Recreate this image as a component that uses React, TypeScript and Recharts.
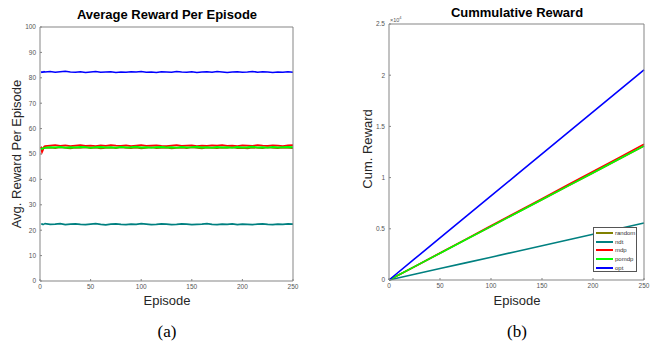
import { LineChart, Line, XAxis, YAxis, Legend } from "recharts";

// Average reward per episode (left panel)
const episodes = [
  1, 2, 3, 4, 5, 10, 15, 20, 25, 30, 35, 40, 45, 50, 55, 60, 65, 70, 75, 80,
  85, 90, 95, 100, 105, 110, 115, 120, 125, 130, 135, 140, 145, 150, 155, 160,
  165, 170, 175, 180, 185, 190, 195, 200, 205, 210, 215, 220, 225, 230, 235,
  240, 245, 250,
];
const avgOpt = [
  82.1, 82.3, 82.2, 82.4, 82.3, 82.5, 82.2, 82.4, 82.6, 82.3, 82.2, 82.4, 82.1,
  82.3, 82.5, 82.2, 82.3, 82.4, 82.1, 82.3, 82.2, 82.4, 82.3, 82.5, 82.2, 82.3,
  82.1, 82.4, 82.3, 82.2, 82.5, 82.3, 82.2, 82.4, 82.1, 82.3, 82.4, 82.2, 82.5,
  82.3, 82.1, 82.3, 82.4, 82.2, 82.3, 82.5, 82.2, 82.4, 82.3, 82.1, 82.3, 82.2,
  82.4, 82.2,
];
const avgNdt = [
  22.3, 22.5, 22.2, 22.4, 22.6, 22.3, 22.4, 22.6, 22.2, 22.4, 22.5, 22.3, 22.2,
  22.4, 22.6, 22.3, 22.1, 22.4, 22.5, 22.3, 22.2, 22.4, 22.3, 22.6, 22.4, 22.2,
  22.3, 22.5, 22.4, 22.2, 22.3, 22.5, 22.4, 22.2, 22.3, 22.4, 22.6, 22.3, 22.2,
  22.4, 22.3, 22.5, 22.2, 22.4, 22.3, 22.2, 22.4, 22.5, 22.3, 22.2, 22.4, 22.3,
  22.5, 22.4,
];
const avgMdp = [
  52.8, 50.7, 51.6, 52.9, 53.1, 53.3, 53.5, 53.2, 53.4, 53.1, 53.3, 53.5, 53.2,
  53.3, 53.1, 53.4, 53.2, 53.5, 53.3, 53.2, 53.4, 53.1, 53.3, 53.5, 53.2, 53.3,
  53.4, 53.2, 53.1, 53.3, 53.5, 53.2, 53.3, 53.4, 53.1, 53.3, 53.2, 53.4, 53.3,
  53.5, 53.2, 53.3, 53.1, 53.4, 53.3, 53.2, 53.5, 53.3, 53.2, 53.4, 53.3, 53.1,
  53.4, 53.5,
];
const avgPomdp = [
  52.3, 51.9, 52.2, 52.4, 52.5, 52.7, 52.6, 52.8, 52.5, 52.7, 52.6, 52.8, 52.7,
  52.5, 52.7, 52.8, 52.6, 52.7, 52.5, 52.8, 52.6, 52.7, 52.9, 52.6, 52.7, 52.5,
  52.7, 52.8, 52.6, 52.7, 52.5, 52.8, 52.6, 52.7, 52.9, 52.6, 52.7, 52.5, 52.8,
  52.6, 52.7, 52.5, 52.8, 52.6, 52.7, 52.9, 52.6, 52.7, 52.5, 52.8, 52.6, 52.7,
  52.8, 52.7,
];
const avgRandom = [
  52.9, 52.4, 52.1, 52.3, 52.4, 52.5, 52.3, 52.6, 52.4, 52.2, 52.5, 52.4, 52.6,
  52.3, 52.5, 52.2, 52.4, 52.5, 52.3, 52.6, 52.4, 52.3, 52.5, 52.2, 52.4, 52.6,
  52.3, 52.4, 52.5, 52.2, 52.4, 52.5, 52.3, 52.6, 52.4, 52.2, 52.5, 52.4, 52.3,
  52.5, 52.4, 52.6, 52.3, 52.4, 52.2, 52.5, 52.4, 52.3, 52.6, 52.4, 52.3, 52.5,
  52.4, 52.3,
];

// Cumulative reward (right panel)
const cumEpisodes = [0, 25, 50, 75, 100, 125, 150, 175, 200, 225, 250];
const cumOpt = [0, 2055, 4110, 6160, 8210, 10260, 12310, 14360, 16410, 18470, 20520];
const cumMdp = [0, 1310, 2640, 3970, 5300, 6630, 7950, 9280, 10600, 11930, 13250];
const cumPomdp = [0, 1305, 2620, 3930, 5240, 6550, 7860, 9170, 10480, 11790, 13100];
const cumRandom = [0, 1300, 2610, 3920, 5230, 6540, 7840, 9150, 10450, 11760, 13070];
const cumNdt = [0, 555, 1115, 1670, 2230, 2785, 3340, 3900, 4460, 5010, 5570];

const xTicks = [0, 50, 100, 150, 200, 250];
const avgTicks = [0, 10, 20, 30, 40, 50, 60, 70, 80, 90, 100];
const cumTicks = [0, 5000, 10000, 15000, 20000, 25000];

const seriesDefs = [
  { key: "random", color: "#808000" },
  { key: "ndt", color: "#008080" },
  { key: "mdp", color: "#ff0000" },
  { key: "pomdp", color: "#00ff00" },
  { key: "opt", color: "#0000ff" },
];

const avgData = episodes.map((e, i) => ({
  ep: e,
  random: avgRandom[i],
  ndt: avgNdt[i],
  mdp: avgMdp[i],
  pomdp: avgPomdp[i],
  opt: avgOpt[i],
}));

const cumData = cumEpisodes.map((e, i) => ({
  ep: e,
  random: cumRandom[i],
  ndt: cumNdt[i],
  mdp: cumMdp[i],
  pomdp: cumPomdp[i],
  opt: cumOpt[i],
}));

const AXIS = "#858585";
const TICK_TEXT = { fontSize: 6.5, fill: "#555", fontFamily: "Liberation Sans" };
const SANS = "'Liberation Sans', Arial, sans-serif";

const abs = (left: number, top: number, extra: React.CSSProperties = {}) =>
  ({ position: "absolute", left, top, fontFamily: SANS, color: "#262626", ...extra }) as React.CSSProperties;

function LegendBox(props: any) {
  const payload = props.payload || [];
  // keep the plotting order, recharts sorts the payload by name
  const items = seriesDefs
    .map((s) => payload.find((p: any) => p.value === s.key))
    .filter(Boolean);
  return (
    <div
      style={{
        width: 44,
        height: 45,
        boxSizing: "border-box",
        border: "1px solid #555",
        background: "#fff",
        paddingTop: 1,
        fontFamily: SANS,
      }}
    >
      {items.map((it: any) => (
        <div key={it.value} style={{ display: "flex", alignItems: "center", height: 8.6 }}>
          <div style={{ width: 17, height: 2, background: it.color, marginLeft: 2, marginRight: 2 }} />
          <span style={{ fontSize: 6, color: "#333", lineHeight: "8px" }}>{it.value}</span>
        </div>
      ))}
    </div>
  );
}

export default function App() {
  return (
    <div style={{ position: "absolute", left: 0, top: 0, width: 651, height: 347, background: "#fff" }}>
      {/* Left panel */}
      <div style={{ position: "absolute", left: 0, top: 0 }}>
        <LineChart width={330} height={320} data={avgData} margin={{ top: 26, right: 36, left: 10, bottom: 19 }}>
          <XAxis
            dataKey="ep"
            type="number"
            domain={[0, 250]}
            ticks={xTicks}
            stroke={AXIS}
            tick={TICK_TEXT}
            tickSize={-2}
            tickMargin={5}
            height={20}
          />
          <XAxis xAxisId="top" orientation="top" type="number" domain={[0, 250]} ticks={xTicks} stroke={AXIS} tick={false} tickSize={-2} height={1} />
          <YAxis type="number" domain={[0, 100]} ticks={avgTicks} stroke={AXIS} tick={TICK_TEXT} tickSize={-2} tickMargin={6} width={30} />
          <YAxis yAxisId="right" orientation="right" type="number" domain={[0, 100]} ticks={avgTicks} stroke={AXIS} tick={false} tickSize={-2} width={1} />
          {seriesDefs.map((s) => (
            <Line key={s.key} dataKey={s.key} type="linear" stroke={s.color} strokeWidth={1.6} dot={false} isAnimationActive={false} />
          ))}
        </LineChart>
      </div>

      {/* Right panel */}
      <div style={{ position: "absolute", left: 330, top: 0 }}>
        <LineChart width={321} height={320} data={cumData} margin={{ top: 23, right: 6, left: 29, bottom: 20 }}>
          <XAxis
            dataKey="ep"
            type="number"
            domain={[0, 250]}
            ticks={xTicks}
            stroke={AXIS}
            tick={TICK_TEXT}
            tickSize={-2}
            tickMargin={5}
            height={20}
          />
          <XAxis xAxisId="top" orientation="top" type="number" domain={[0, 250]} ticks={xTicks} stroke={AXIS} tick={false} tickSize={-2} height={1} />
          <YAxis
            type="number"
            domain={[0, 25000]}
            ticks={cumTicks}
            stroke={AXIS}
            tick={TICK_TEXT}
            tickFormatter={(v: number) => String(v / 10000)}
            tickSize={-2}
            tickMargin={6}
            width={30}
          />
          <YAxis yAxisId="right" orientation="right" type="number" domain={[0, 25000]} ticks={cumTicks} stroke={AXIS} tick={false} tickSize={-2} width={1} />
          {seriesDefs.map((s) => (
            <Line key={s.key} dataKey={s.key} name={s.key} type="linear" stroke={s.color} strokeWidth={1.6} dot={false} isAnimationActive={false} />
          ))}
          <Legend
            layout="vertical"
            align="center"
            verticalAlign="middle"
            content={<LegendBox />}
            wrapperStyle={{ left: 263, top: 227, width: 44, height: 45 }}
          />
        </LineChart>
      </div>

      {/* Titles and labels */}
      <div style={abs(0, 7, { width: 334, textAlign: "center", fontSize: 13, fontWeight: "bold", color: "#000" })}>
        Average Reward Per Episode
      </div>
      <div style={abs(330, 5, { width: 374, textAlign: "center", fontSize: 13, fontWeight: "bold", color: "#000" })}>
        Cummulative Reward
      </div>
      <div style={abs(-100, 146, { width: 234, textAlign: "center", fontSize: 13, transform: "rotate(-90deg)", lineHeight: "16px" })}>
        Avg. Reward Per Episode
      </div>
      <div style={abs(268, 141, { width: 200, textAlign: "center", fontSize: 13, transform: "rotate(-90deg)", lineHeight: "16px" })}>
        Cum. Reward
      </div>
      <div style={abs(67, 293, { width: 200, textAlign: "center", fontSize: 13 })}>Episode</div>
      <div style={abs(417, 293, { width: 200, textAlign: "center", fontSize: 13 })}>Episode</div>
      <div style={abs(390, 15, { fontSize: 5.5, color: "#555" })}>
        ×10<sup style={{ fontSize: 4 }}>4</sup>
      </div>
      <div style={abs(117, 322, { width: 100, textAlign: "center", fontSize: 17, fontFamily: "'Liberation Serif', serif", color: "#000" })}>
        (a)
      </div>
      <div style={abs(467, 322, { width: 100, textAlign: "center", fontSize: 17, fontFamily: "'Liberation Serif', serif", color: "#000" })}>
        (b)
      </div>
    </div>
  );
}
